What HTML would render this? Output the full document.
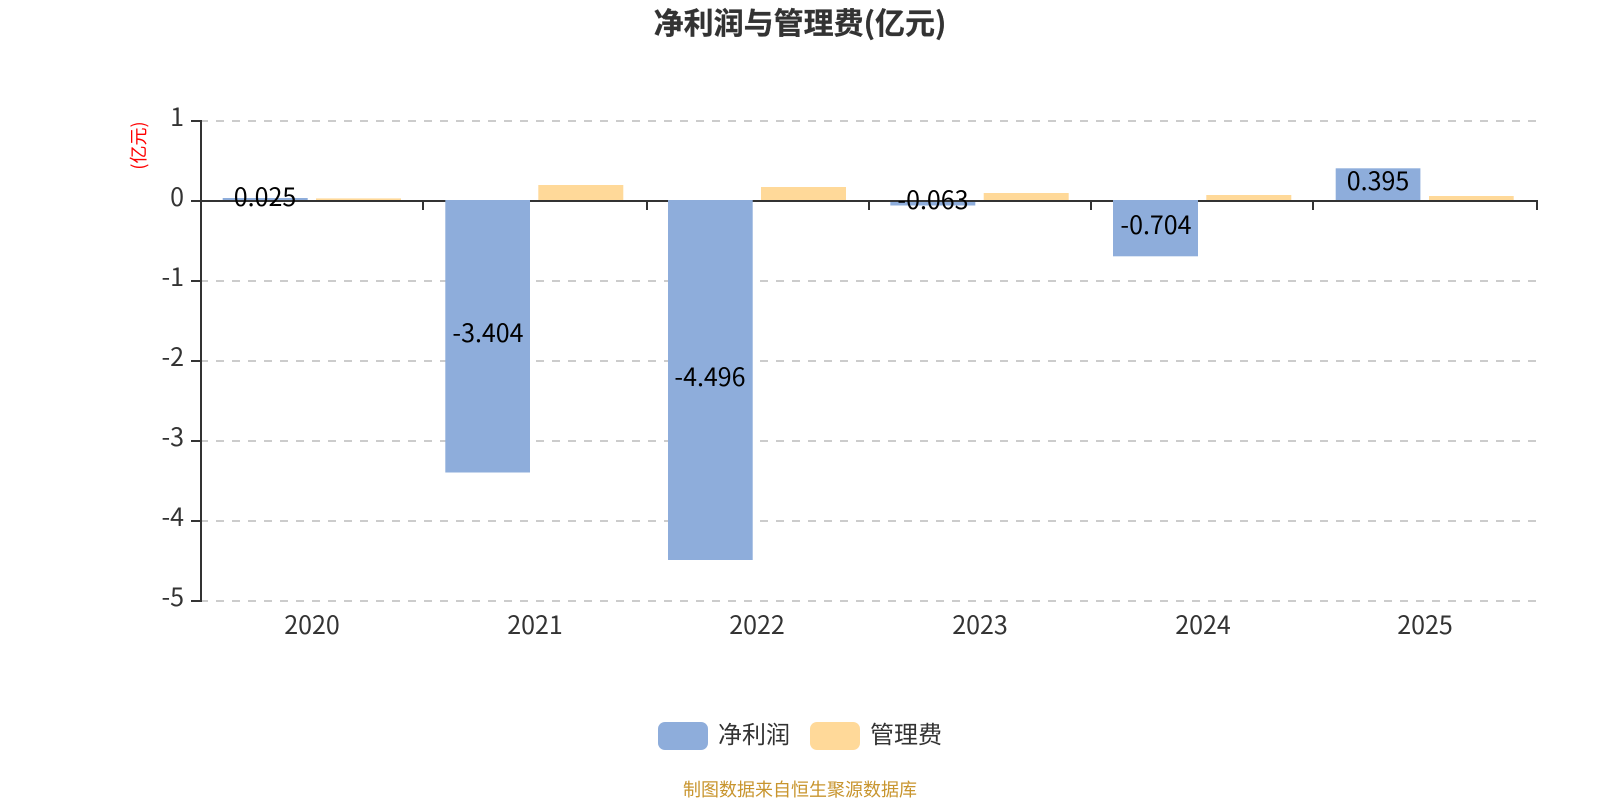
<!DOCTYPE html>
<html lang="zh">
<head>
<meta charset="utf-8">
<title>净利润与管理费(亿元)</title>
<style>
html,body{margin:0;padding:0;width:1600px;height:800px;background:#fff;overflow:hidden}
svg{display:block}
text{font-family:"Noto Sans CJK SC","Liberation Sans",sans-serif}
</style>
</head>
<body>
<svg width="1600" height="800" viewBox="0 0 1600 800" xmlns="http://www.w3.org/2000/svg">
<rect width="1600" height="800" fill="#fff"/>
<text x="800" y="34" text-anchor="middle" font-size="30" font-weight="700" fill="#333" stroke="#333" stroke-width="0.3">净利润与管理费(亿元)</text>

<!-- grid -->
<g stroke="#ccc" stroke-width="2" stroke-dasharray="8 8" fill="none">
<line x1="200" y1="121" x2="1536" y2="121"/>
<line x1="200" y1="281" x2="1536" y2="281"/>
<line x1="200" y1="361" x2="1536" y2="361"/>
<line x1="200" y1="441" x2="1536" y2="441"/>
<line x1="200" y1="521" x2="1536" y2="521"/>
<line x1="200" y1="601" x2="1536" y2="601"/>
</g>

<!-- axes -->
<g stroke="#333" stroke-width="2" fill="none">
<line x1="201" y1="120" x2="201" y2="602"/>
<line x1="191" y1="121" x2="201" y2="121"/>
<line x1="191" y1="201" x2="201" y2="201"/>
<line x1="191" y1="281" x2="201" y2="281"/>
<line x1="191" y1="361" x2="201" y2="361"/>
<line x1="191" y1="441" x2="201" y2="441"/>
<line x1="191" y1="521" x2="201" y2="521"/>
<line x1="191" y1="601" x2="201" y2="601"/>
<line x1="200" y1="201" x2="1538" y2="201"/>
<line x1="423" y1="201" x2="423" y2="210"/>
<line x1="647" y1="201" x2="647" y2="210"/>
<line x1="869" y1="201" x2="869" y2="210"/>
<line x1="1091" y1="201" x2="1091" y2="210"/>
<line x1="1313" y1="201" x2="1313" y2="210"/>
<line x1="1537" y1="201" x2="1537" y2="210"/>
</g>

<!-- bars -->
<g fill="#8eaddb">
<rect x="222.7" y="198" width="85" height="2"/>
<rect x="445.3" y="200" width="84.7" height="272.5"/>
<rect x="668" y="200" width="84.7" height="360"/>
<rect x="890.3" y="202" width="85" height="3.5"/>
<rect x="1113" y="200" width="85" height="56.3"/>
<rect x="1335.7" y="168.3" width="84.7" height="31.7"/>
</g>
<g fill="#ffd999">
<rect x="316" y="198.4" width="85" height="1.6"/>
<rect x="538.3" y="185" width="85" height="15"/>
<rect x="761" y="187" width="85" height="13"/>
<rect x="983.7" y="193" width="85" height="7"/>
<rect x="1206.3" y="195" width="85" height="5"/>
<rect x="1429" y="196" width="84.7" height="4"/>
</g>

<!-- y labels -->
<g font-size="25" fill="#333" text-anchor="end">
<text x="184" y="126">1</text>
<text x="184" y="206">0</text>
<text x="184" y="286">-1</text>
<text x="184" y="366">-2</text>
<text x="184" y="446">-3</text>
<text x="184" y="526">-4</text>
<text x="184" y="606">-5</text>
</g>

<!-- x labels -->
<g font-size="25" fill="#333" text-anchor="middle">
<text x="312" y="634">2020</text>
<text x="535" y="634">2021</text>
<text x="757" y="634">2022</text>
<text x="980" y="634">2023</text>
<text x="1203" y="634">2024</text>
<text x="1425" y="634">2025</text>
</g>

<text transform="translate(145 145.5) rotate(-90)" text-anchor="middle" font-size="18" fill="#f00">(亿元)</text>

<!-- value labels -->
<g font-size="25" fill="#000" text-anchor="middle">
<text x="265" y="206">0.025</text>
<text x="488" y="342">-3.404</text>
<text x="710" y="386">-4.496</text>
<text x="933" y="209">-0.063</text>
<text x="1156" y="234">-0.704</text>
<text x="1378" y="190">0.395</text>
</g>

<!-- legend -->
<rect x="658" y="722" width="50" height="28" rx="7" ry="7" fill="#8eaddb"/>
<text x="718" y="743" font-size="24" fill="#333">净利润</text>
<rect x="810" y="722" width="50" height="28" rx="7" ry="7" fill="#ffd999"/>
<text x="870" y="743" font-size="24" fill="#333">管理费</text>

<text x="800" y="796" text-anchor="middle" font-size="18" fill="#c8952e">制图数据来自恒生聚源数据库</text>
</svg>
</body>
</html>
